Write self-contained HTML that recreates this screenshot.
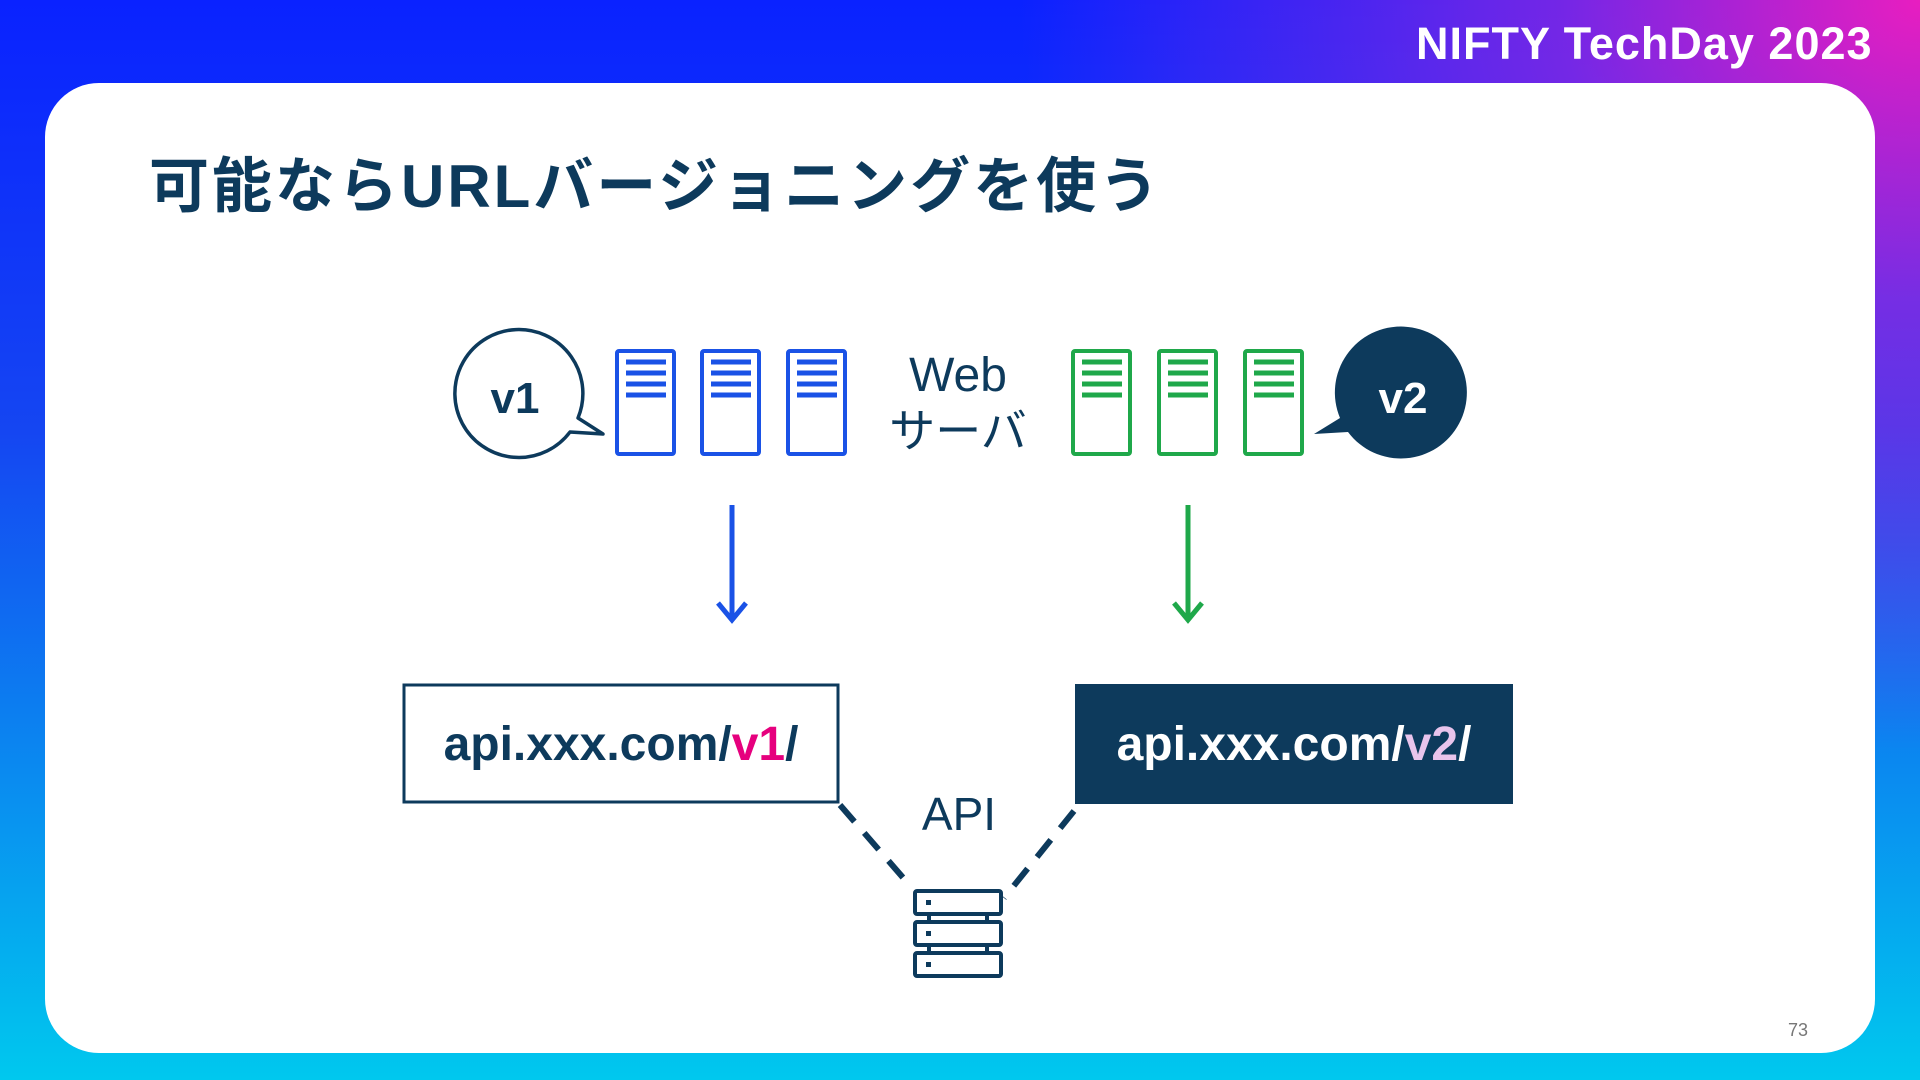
<!DOCTYPE html>
<html><head><meta charset="utf-8"><style>
html,body{margin:0;padding:0;width:1920px;height:1080px;overflow:hidden}
body{background:linear-gradient(180deg,#0a22ff 0%,#1546f2 40%,#00c8ee 100%);position:relative;font-family:"Liberation Sans","Noto Sans CJK JP",sans-serif}
.mag{position:absolute;inset:0;background:radial-gradient(ellipse 900px 750px at 1920px 0px,#e81ec0 0%,rgba(160,40,220,0.7) 40%,rgba(80,60,230,0) 100%)}
.card{position:absolute;left:45px;top:83px;width:1830px;height:970px;background:#fff;border-radius:54px}
.logo{position:absolute;left:1416px;top:18px;color:#fff;font-weight:bold;font-size:45px;letter-spacing:1px;white-space:nowrap}
</style></head><body>
<div class="mag"></div>
<div class="logo">NIFTY TechDay 2023</div>
<div class="card"></div>
<svg width="1920" height="1080" style="position:absolute;left:0;top:0" xmlns="http://www.w3.org/2000/svg">
<text x="149" y="207" font-family="Liberation Sans,Noto Sans CJK JP,sans-serif" font-weight="bold" font-size="60" letter-spacing="3" fill="#0d3a5c">可能ならURLバージョニングを使う</text>
<path d="M578,418 A64,64 0 1 0 570,432 L603,434 Z" fill="#fff" stroke="#0d3a5c" stroke-width="3.5" stroke-linejoin="round"/>
<text x="515" y="413" text-anchor="middle" font-weight="bold" font-size="44" fill="#0d3a5c" font-family="Liberation Sans,sans-serif">v1</text>
<path d="M1340,418 A66,66 0 1 1 1348,432 L1314,434 Z" fill="#0d3a5c"/>
<text x="1403" y="413" text-anchor="middle" font-weight="bold" font-size="44" fill="#fff" font-family="Liberation Sans,sans-serif">v2</text>
<g fill="#fff" stroke-width="4">
<g stroke="#1a52e6">
<rect x="617" y="351" width="57" height="103" rx="2"/><rect x="702" y="351" width="57" height="103" rx="2"/><rect x="788" y="351" width="57" height="103" rx="2"/>
</g>
<g stroke="#1fa84a">
<rect x="1073" y="351" width="57" height="103" rx="2"/><rect x="1159" y="351" width="57" height="103" rx="2"/><rect x="1245" y="351" width="57" height="103" rx="2"/>
</g>
</g>
<g stroke-width="5">
<g stroke="#1a52e6">
<path d="M626 362h40M626 373h40M626 384h40M626 395h40M711 362h40M711 373h40M711 384h40M711 395h40M797 362h40M797 373h40M797 384h40M797 395h40"/>
</g>
<g stroke="#1fa84a">
<path d="M1082 362h40M1082 373h40M1082 384h40M1082 395h40M1168 362h40M1168 373h40M1168 384h40M1168 395h40M1254 362h40M1254 373h40M1254 384h40M1254 395h40"/>
</g>
</g>
<text x="958" y="391" text-anchor="middle" font-size="48" fill="#0d3a5c">Web</text>
<text x="958" y="447" text-anchor="middle" font-size="46" fill="#0d3a5c" font-family="Noto Sans CJK JP,sans-serif">サーバ</text>
<line x1="732" y1="505" x2="732" y2="618" stroke="#1a52e6" stroke-width="5"/>
<path d="M718,603 L732,620 L746,603" fill="none" stroke="#1a52e6" stroke-width="5"/>
<line x1="1188" y1="505" x2="1188" y2="618" stroke="#1fa84a" stroke-width="5"/>
<path d="M1174,603 L1188,620 L1202,603" fill="none" stroke="#1fa84a" stroke-width="5"/>
<rect x="404" y="685" width="434" height="117" fill="#fff" stroke="#0d3a5c" stroke-width="3"/>
<text x="621" y="760" text-anchor="middle" font-weight="bold" font-size="48" fill="#0d3a5c">api.xxx.com/<tspan fill="#e6007e">v1</tspan>/</text>
<rect x="1075" y="684" width="438" height="120" fill="#0d3a5c"/>
<text x="1294" y="760" text-anchor="middle" font-weight="bold" font-size="48" fill="#fff">api.xxx.com/<tspan fill="#e8c4ec">v2</tspan>/</text>
<text x="959" y="830" text-anchor="middle" font-size="46" fill="#0d3a5c">API</text>
<g stroke="#0d3a5c" stroke-width="6" stroke-dasharray="22,15">
<line x1="840" y1="805" x2="912" y2="888"/>
<line x1="1074" y1="811" x2="1004" y2="898"/>
</g>
<g fill="#fff" stroke="#0d3a5c" stroke-width="4">
<rect x="915" y="891" width="86" height="23" rx="2"/>
<rect x="915" y="922" width="86" height="23" rx="2"/>
<rect x="915" y="953" width="86" height="23" rx="2"/>
<path d="M929 914v8M987 914v8M929 945v8M987 945v8"/>
</g>
<g fill="#0d3a5c"><rect x="926" y="900" width="5" height="5"/><rect x="926" y="931" width="5" height="5"/><rect x="926" y="962" width="5" height="5"/></g>
<text x="1798" y="1036" text-anchor="middle" font-size="18" fill="#777">73</text>
</svg>
</body></html>
